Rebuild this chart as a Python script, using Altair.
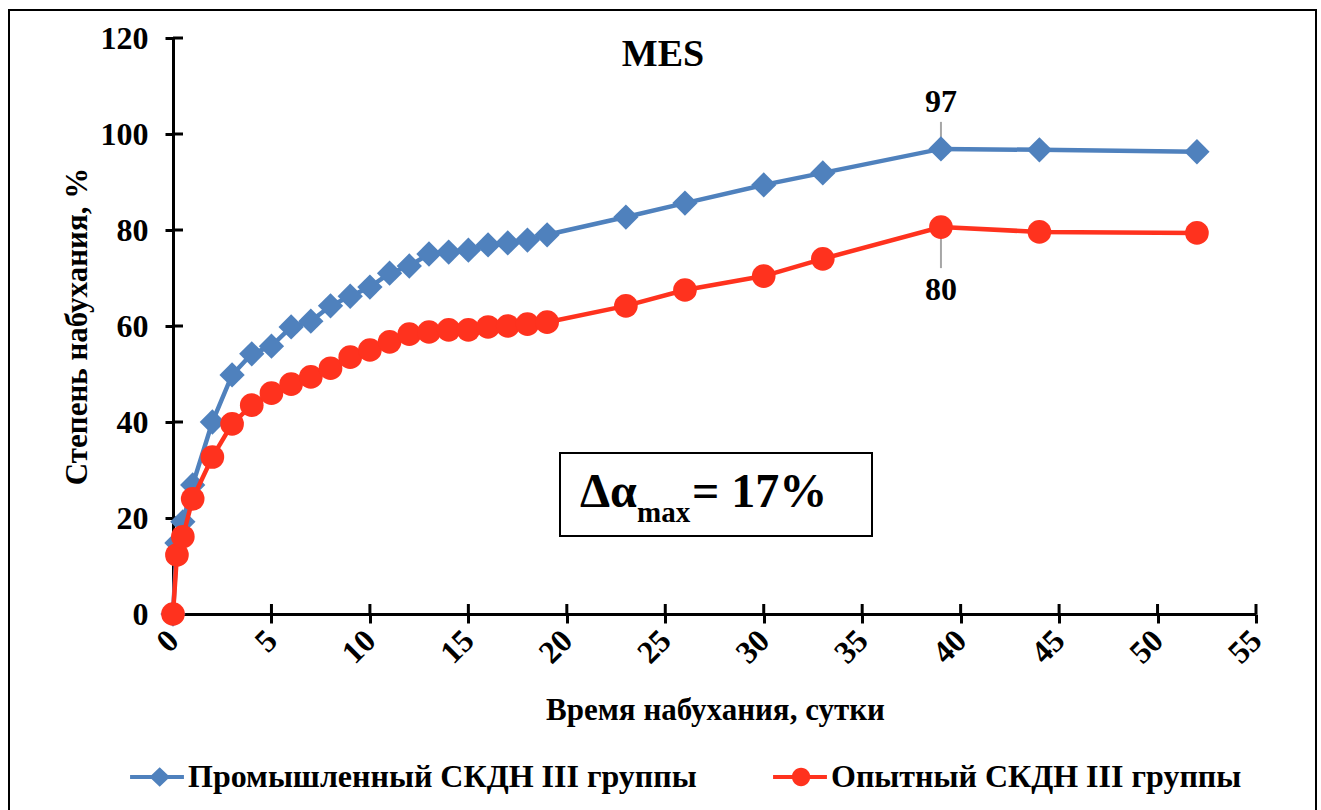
import altair as alt
import pandas as pd

# ---- data ----
days = [0, 0.2, 0.5, 1, 2, 3, 4, 5, 6, 7, 8, 9, 10, 11, 12, 13, 14, 15, 16, 17, 18, 19,
        23, 26, 30, 33, 39, 44, 52]
industrial = [0, 14.8, 19.2, 26.9, 40, 49.8, 54.2, 55.8, 59.8, 61, 64.2, 66.2, 68.1, 71,
              72.5, 75, 75.4, 75.8, 76.9, 77.3, 77.9, 79, 82.7, 85.6, 89.4, 91.9, 96.9,
              96.7, 96.3]
experimental = [0, 12.3, 16.1, 24, 32.7, 39.6, 43.5, 46, 47.9, 49.4, 51.2, 53.5, 55, 56.7,
                58.3, 58.75, 59.2, 59.2, 59.8, 60, 60.4, 60.8, 64.2, 67.5, 70.4, 74, 80.6,
                79.6, 79.4]
series_names = ["Промышленный СКДН III группы", "Опытный СКДН III группы"]
x_ticks = [0, 5, 10, 15, 20, 25, 30, 35, 40, 45, 50, 55]
y_ticks = [0, 20, 40, 60, 80, 100, 120]
peak_day = [39, 39]
peak_value = [96.9, 80.6]
peak_label = ["97", "80"]

BLUE = "#4F81BD"
RED = "#FF321E"
FONT = "Liberation Serif"

df = pd.concat([
    pd.DataFrame({"day": days, "value": industrial, "series": series_names[0], "order": range(len(days))}),
    pd.DataFrame({"day": days, "value": experimental, "series": series_names[1], "order": range(len(days))}),
], ignore_index=True)
peaks = pd.DataFrame({"day": peak_day, "value": peak_value, "label": peak_label,
                      "series": series_names})
xt = pd.DataFrame({"day": x_ticks})
yt = pd.DataFrame({"value": y_ticks})
one = pd.DataFrame({"a": [0]})

W, H = 1083, 576

x_scale = alt.Scale(domain=[0, 55], nice=False, zero=False)
y_scale = alt.Scale(domain=[0, 120], nice=False)
color_scale = alt.Scale(domain=series_names, range=[BLUE, RED])

x_axis = alt.Axis(values=x_ticks, labelAngle=-45, labelAlign="right", labelBaseline="middle",
                  labelFont=FONT, labelFontSize=32, labelFontWeight="bold", labelColor="black",
                  labelPadding=12, labelFlush=False, labelOverlap=False,
                  domainColor="black", domainWidth=3, tickColor="black", tickWidth=3, tickSize=9,
                  grid=False, title="Время набухания, сутки", titleFont=FONT, titleFontSize=31,
                  titleFontWeight="bold", titleColor="black", titleX=542, titleY=96,
                  titleAnchor="middle", titleAlign="center", titleBaseline="middle")
y_axis = alt.Axis(values=y_ticks, labelFont=FONT, labelFontSize=32, labelFontWeight="bold",
                  labelColor="black", labelPadding=17, labelFlush=False, labelOverlap=False,
                  domainColor="black", domainWidth=3, tickColor="black", tickWidth=3, tickSize=8,
                  grid=False, title="Степень набухания, %", titleFont=FONT, titleFontSize=31,
                  titleFontWeight="bold", titleColor="black", titleX=-96, titleY=288,
                  titleAngle=-90, titleAlign="center", titleBaseline="middle")

X = alt.X("day:Q", scale=x_scale, axis=x_axis)
Y = alt.Y("value:Q", scale=y_scale, axis=y_axis)

# legend: symbols drawn as line + marker
leg_paths = [
    "M-1,-0.07L1,-0.07L1,0.07L-1,0.07Z M0.1,-0.36L0.48,0L0.1,0.36L-0.28,0Z",
    "M-1,-0.07L1,-0.07L1,0.07L-1,0.07Z M0.38,0A0.34,0.34,0,1,1,-0.3,0A0.34,0.34,0,1,1,0.38,0Z",
]
legend = alt.Legend(title=None, orient="none", legendX=-43, legendY=712, direction="horizontal",
                    columns=2, columnPadding=76, labelFont=FONT, labelFontSize=32,
                    labelFontWeight="bold", labelColor="black", labelOffset=4, symbolSize=2900,
                    symbolStrokeWidth=0, labelLimit=800)
C = alt.Color("series:N", scale=color_scale, legend=legend)

base = alt.Chart(df)

legend_layer = base.transform_filter("datum.day < -1").mark_point(filled=True, opacity=1).encode(
    x=X, y=Y, color=C,
    shape=alt.Shape("series:N", scale=alt.Scale(domain=series_names, range=leg_paths), legend=legend),
)

lines = base.mark_line(strokeWidth=4.5).encode(x=X, y=Y, color=C, order="order:Q")
blue_line = lines.transform_filter(alt.datum.series == series_names[0])
red_line = lines.transform_filter(alt.datum.series == series_names[1])

blue_pts = base.transform_filter(alt.datum.series == series_names[0]).mark_point(
    shape="diamond", filled=True, size=640, color=BLUE, opacity=1
).encode(x=X, y=Y)

red_pts = base.transform_filter(alt.datum.series == series_names[1]).mark_point(
    shape="circle", filled=True, size=560, color=RED, opacity=1
).encode(x=X, y=Y)

# inner halves of the crossing ticks
x_inner = alt.Chart(xt).mark_rule(color="black", strokeWidth=3).encode(
    x=X, y=alt.value(H), y2=alt.value(H - 10))
y_inner = alt.Chart(yt).mark_rule(color="black", strokeWidth=3).encode(
    y=Y, x=alt.value(0), x2=alt.value(10))

# peak labels with leader lines
pk = alt.Chart(peaks)
lead_blue = pk.transform_filter(alt.datum.label == "97").mark_rule(
    color="#A6A6A6", strokeWidth=2, yOffset=-27, y2Offset=-4).encode(
    x=X, y=Y, y2=alt.Y2("value:Q"))
lead_red = pk.transform_filter(alt.datum.label == "80").mark_rule(
    color="#A6A6A6", strokeWidth=2, yOffset=2, y2Offset=41).encode(
    x=X, y=Y, y2=alt.Y2("value:Q"))
txt_blue = pk.transform_filter(alt.datum.label == "97").mark_text(
    font=FONT, fontSize=32, fontWeight="bold", color="black", dy=-47, baseline="middle").encode(
    x=X, y=Y, text="label:N")
txt_red = pk.transform_filter(alt.datum.label == "80").mark_text(
    font=FONT, fontSize=32, fontWeight="bold", color="black", dy=63, baseline="middle").encode(
    x=X, y=Y, text="label:N")

# title inside the plot
title = alt.Chart(one).mark_text(font=FONT, fontSize=38, fontWeight="bold", color="black",
                                 baseline="middle", align="center", text="MES").encode(
    x=alt.value(490), y=alt.value(17))

# delta-alpha box
box = alt.Chart(one).mark_rect(fill="white", stroke="black", strokeWidth=2).encode(
    x=alt.value(387), x2=alt.value(699), y=alt.value(415), y2=alt.value(498))
t1 = alt.Chart(one).mark_text(font=FONT, fontSize=48, fontWeight="bold", color="black",
                              align="left", baseline="alphabetic", text="Δα").encode(
    x=alt.value(407), y=alt.value(469))
t2 = alt.Chart(one).mark_text(font=FONT, fontSize=29, fontWeight="bold", color="black",
                              align="left", baseline="alphabetic", text="max").encode(
    x=alt.value(464), y=alt.value(484))
t3 = alt.Chart(one).mark_text(font=FONT, fontSize=48, fontWeight="bold", color="black",
                              align="left", baseline="alphabetic", text="= 17%").encode(
    x=alt.value(519), y=alt.value(469))

# outer frame
frame = alt.Chart(one).mark_rect(fill="transparent", stroke="black", strokeWidth=2).encode(
    x=alt.value(-164), x2=alt.value(1143), y=alt.value(-28), y2=alt.value(810))

chart = alt.layer(
    legend_layer, frame, x_inner, y_inner, lead_blue, lead_red, blue_line, blue_pts,
    red_line, red_pts, txt_blue, txt_red, title, box, t1, t2, t3
).properties(
    width=W, height=H,
    autosize=alt.AutoSizeParams(type="none"),
    padding={"left": 173, "top": 38, "right": 65, "bottom": 196},
    background="white",
).configure_view(strokeWidth=0)

chart.save("out.html", embed_options={"renderer": "svg", "actions": False})
